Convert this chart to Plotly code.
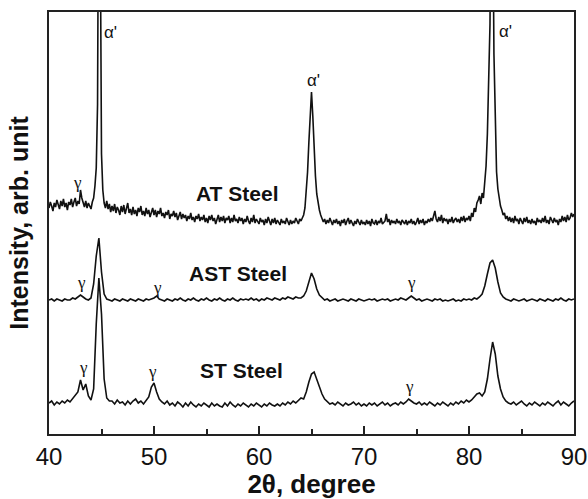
import plotly.graph_objects as go

# 2theta sampling grids (degrees)
x_start = 40.0
at_step = 0.125
other_step = 0.25

# Intensities (arb. units), offset-stacked as in the original
at_steel = [
    226, 232, 228, 223, 231, 227, 234, 229,
    225, 233, 228, 235, 227, 231, 224, 232,
    229, 235, 227, 232, 236, 228, 233, 230,
    244, 236, 230, 227, 233, 226, 231, 228,
    225, 232, 236, 248, 266, 330, 650, 520,
    280, 244, 231, 226, 233, 225, 230, 222,
    228, 223, 230, 221, 227, 224, 219, 228,
    222, 229, 220, 226, 231, 221, 225, 219,
    227, 220, 224, 218, 226, 222, 228, 219,
    223, 218, 226, 220, 224, 217, 222, 226,
    219, 224, 217, 223, 220, 226, 218, 221,
    216, 222, 219, 224, 215, 220, 218, 223,
    217, 221, 214, 219, 222, 215, 220, 216,
    219, 213, 218, 215, 221, 214, 217, 212,
    218, 215, 220, 213, 217, 214, 219, 212,
    216, 211, 218, 214, 219, 213, 216, 210,
    215, 219, 212, 217, 213, 218, 211, 216,
    214, 218, 211, 216, 212, 219, 213, 215,
    211, 217, 213, 216, 210, 215, 212, 218,
    213, 210, 216, 212, 219, 211, 215, 213,
    210, 216, 212, 214, 209, 215, 211, 217,
    212, 209, 215, 211, 216, 210, 214, 212,
    209, 215, 211, 213, 210, 216, 212, 209,
    214, 210, 213, 211, 216, 212, 210, 215,
    213, 216, 219, 226, 240, 262, 292, 325,
    342, 318, 285, 258, 240, 230, 224, 219,
    216, 212, 215, 210, 214, 211, 216, 212,
    209, 214, 211, 215, 210, 213, 208, 214,
    211, 215, 209, 213, 216, 210, 214, 211,
    208, 213, 210, 215, 211, 209, 214, 210,
    212, 209, 214, 210, 213, 208, 215, 211,
    210, 214, 209, 213, 211, 216, 210, 212,
    213, 220, 212, 215, 209, 214, 211, 213,
    210, 215, 211, 213, 209, 214, 212, 210,
    214, 209, 213, 211, 215, 210, 213, 209,
    212, 216, 210, 214, 211, 215, 209, 213,
    211, 215, 212, 216, 213, 218, 223, 215,
    212, 217, 213, 219, 211, 216, 213, 215,
    210, 215, 212, 217, 211, 214, 216, 212,
    215, 211, 217, 213, 218, 212, 216, 214,
    218, 213, 221, 217, 226, 222, 231, 234,
    238, 230, 241, 236, 250, 268, 300, 345,
    410, 650, 560, 380, 300, 262, 245, 236,
    228, 224, 219, 221, 215, 218, 213, 217,
    212, 216, 211, 218, 213, 215, 210, 216,
    213, 210, 216, 212, 217, 211, 214, 210,
    215, 211, 213, 209, 216, 212, 214, 211,
    216, 212, 218, 211, 214, 210, 217, 213,
    211, 216, 212, 214, 209, 215, 212, 218,
    213, 217, 212, 219, 214, 216, 221, 217,
    220,
]
ast_steel = [
    134, 135, 133, 135,  134, 133, 135, 134,  134, 136, 135, 137,  139, 137, 135, 134,
    136, 150, 178, 196,  162, 140, 135, 134,  133, 135, 134, 133,  135, 134, 133, 135,
    134, 133, 135, 134,  133, 135, 134, 135,  136, 138, 135, 134,  133, 135, 134, 133,
    135, 134, 136, 134,  133, 135, 134, 136,  134, 133, 135, 134,  136, 134, 133, 135,
    134, 136, 134, 133,  135, 134, 136, 134,  133, 135, 134, 135,  134, 136, 134, 135,
    133, 135, 134, 136,  135, 134, 136, 135,  134, 136, 135, 137,  136, 135, 137, 136,
    136, 138, 143, 152,  161, 155, 145, 139,  136, 134, 135, 133,  134, 135, 133, 134,
    135, 134, 133, 135,  134, 133, 135, 134,  133, 134, 135, 134,  135, 133, 134, 135,
    134, 135, 133, 134,  135, 134, 136, 135,  134, 136, 138, 136,  134, 135, 133, 134,
    135, 134, 133, 135,  134, 135, 133, 134,  133, 134, 135, 133,  134, 133, 135, 134,
    135, 134, 136, 135,  137, 140, 148, 160,  171, 174, 166, 152,  141, 137, 135, 134,
    133, 135, 134, 133,  134, 135, 133, 134,  135, 134, 133, 135,  134, 133, 135, 134,
    133, 135, 134, 136,  134, 133, 135, 134,  135,
]
st_steel = [
    31, 33, 29, 32,  30, 33, 31, 34,  32, 35, 38, 42,  54, 44, 50, 38,
    34, 45, 110, 156, 120, 55, 36, 33,  33, 30, 34, 31,  32, 29, 33, 30,
    33, 35, 31, 33,  30, 33, 37, 47,  51, 42, 35, 32,  30, 33, 29, 31,
    28, 32, 30, 27,  31, 28, 32, 29,  27, 30, 28, 31,  29, 27, 31, 28,
    30, 28, 27, 31,  28, 32, 29, 27,  30, 28, 31, 29,  27, 30, 28, 31,
    29, 27, 30, 28,  31, 29, 28, 30,  28, 31, 29, 32,  30, 33, 31, 34,
    36, 35, 42, 52,  60, 62, 55, 46,  40, 35, 32, 30,  31, 29, 32, 30,
    28, 31, 29, 30,  32, 29, 31, 28,  30, 28, 31, 29,  31, 28, 30, 32,
    29, 31, 28, 30,  31, 29, 32, 30,  32, 35, 33, 31,  30, 32, 29, 31,
    29, 32, 30, 28,  31, 29, 32, 30,  28, 31, 29, 32,  30, 33, 31, 34,
    32, 34, 37, 40,  41, 38, 42, 55,  75, 92, 80, 58,  45, 37, 33, 31,
    30, 32, 29, 31,  33, 30, 28, 31,  29, 32, 30, 28,  31, 29, 32, 30,
    28, 31, 33, 29,  32, 30, 28, 31,  33,
]

sample_names = ["AT Steel", "AST Steel", "ST Steel"]
sample_label_pos = [(57.95, 241), (58.0, 161), (58.3, 64)]

alpha_labels = [(45.05, 402, "left"), (65.2, 354, "center"), (82.65, 403, "left")]
gamma_labels = [(42.76, 252), (43.1, 152), (50.3, 147), (74.5, 152),
                (43.25, 67), (49.9, 63), (74.3, 48)]

x_ticks = [40, 50, 60, 70, 80, 90]

x_at = [x_start + at_step * i for i in range(len(at_steel))]
x_other = [x_start + other_step * i for i in range(len(ast_steel))]

fig = go.Figure()
for name, xs, ys in zip(sample_names, [x_at, x_other, x_other], [at_steel, ast_steel, st_steel]):
    fig.add_trace(go.Scatter(x=xs, y=ys, mode="lines", name=name,
                             line=dict(color="#111111", width=1.6), showlegend=False))

ann = []
for name, (ax, ay) in zip(sample_names, sample_label_pos):
    ann.append(dict(x=ax, y=ay, text="<b>" + name + "</b>", showarrow=False,
                    font=dict(family="Liberation Sans", size=21, color="#111111"),
                    xanchor="center", yanchor="middle"))
for ax, ay, anc in alpha_labels:
    ann.append(dict(x=ax, y=ay, text="α'", showarrow=False, xanchor=anc, yanchor="middle",
                    font=dict(family="Liberation Sans", size=17, color="#111111")))
for ax, ay in gamma_labels:
    ann.append(dict(x=ax, y=ay, text="γ", showarrow=False, xanchor="center", yanchor="middle",
                    font=dict(family="Liberation Serif", size=17, color="#111111")))

fig.update_layout(
    width=588, height=499,
    margin=dict(l=49, r=14, t=12, b=65),
    paper_bgcolor="white", plot_bgcolor="white",
    annotations=ann,
    font=dict(family="Liberation Sans", color="#111111"),
)
fig.update_xaxes(
    range=[40, 90], tickvals=x_ticks, ticktext=[str(t) for t in x_ticks],
    ticks="inside", ticklen=8, tickwidth=1.5, tickcolor="#222222",
    minor=dict(dtick=5, tick0=40, ticks="inside", ticklen=5, tickwidth=1.5, tickcolor="#222222"),
    showline=True, linecolor="#222222", linewidth=2, mirror=True,
    showgrid=False, zeroline=False, automargin=False,
    tickfont=dict(family="Liberation Sans", size=24, color="#111111"),
    title=dict(text="<b>2θ, degree</b>", standoff=9,
               font=dict(family="Liberation Sans", size=26, color="#111111")),
)
fig.update_yaxes(
    range=[0, 422], showticklabels=False, ticks="",
    showline=True, linecolor="#222222", linewidth=2, mirror=True,
    showgrid=False, zeroline=False, automargin=False,
    title=dict(text="<b>Intensity, arb. unit</b>", standoff=11,
               font=dict(family="Liberation Sans", size=25, color="#111111")),
)

fig.write_html("out.html", config={"displayModeBar": False},
               post_script="document.body.style.margin='0';")
